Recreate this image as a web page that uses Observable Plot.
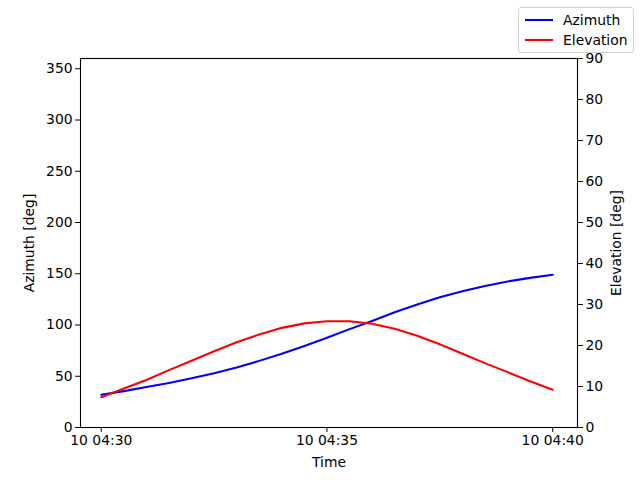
<!DOCTYPE html>
<html>
<head>
<meta charset="utf-8">
<script src="https://cdn.jsdelivr.net/npm/d3@7"></script>
<script src="https://cdn.jsdelivr.net/npm/@observablehq/plot@0.6"></script>
<style>
  html, body { margin: 0; padding: 0; background: white; }
  #wrap { position: relative; width: 640px; height: 480px; font-family: "DejaVu Sans", sans-serif; }
  #legend { position: absolute; left: 518px; top: 7px; width: 114px; height: 44px; border: 1px solid #d0d0d0; border-radius: 3px; background: rgba(255,255,255,0.8); font-size: 13.9px; }
  .item { position: absolute; left: 6px; height: 20px; display: flex; align-items: center; }
  .item svg { margin-right: 10px; }
</style>
</head>
<body>
<div id="wrap">
  <div id="chart"></div>
  <div id="legend"></div>
</div>
<script>
// Times (minutes after 04:30 on day 10), sampled every 30 s
const minutes = [0, 0.5, 1, 1.5, 2, 2.5, 3, 3.5, 4, 4.5, 5, 5.5, 6, 6.5, 7, 7.5, 8, 8.5, 9, 9.5, 10];
const azimuth = [32, 35.5, 39.5, 43.5, 48, 53, 58.5, 65, 72, 79.5, 87.5, 96, 104, 112.5, 120, 127, 133, 138, 142.5, 146, 149];
const elevation = [7.4, 9.5, 11.6, 14.0, 16.3, 18.6, 20.8, 22.7, 24.3, 25.4, 25.9, 25.9, 25.3, 24.1, 22.4, 20.3, 18.0, 15.7, 13.5, 11.3, 9.2];
const seriesNames = ["Azimuth", "Elevation"];
const seriesColors = ["blue", "red"];
const azTicks = [0, 50, 100, 150, 200, 250, 300, 350];
const elTicks = [0, 10, 20, 30, 40, 50, 60, 70, 80, 90];
const xTickMinutes = [0, 5, 10];
const xDomainMinutes = [-0.46, 10.55];

const base = Date.UTC(2024, 0, 10, 4, 30, 0);
const toDate = m => new Date(base + m * 60000);
const data = minutes.map((m, i) => ({time: toDate(m), az: azimuth[i], el: elevation[i]}));
const ratio = 360 / 90;

const chart = Plot.plot({
  width: 640,
  height: 480,
  marginLeft: 80,
  marginRight: 63,
  marginTop: 58,
  marginBottom: 53,
  style: {fontFamily: "DejaVu Sans", fontSize: "13.9px", background: "white", color: "black", overflow: "visible"},
  x: {type: "utc", domain: xDomainMinutes.map(toDate)},
  y: {domain: [0, 360]},
  marks: [
    Plot.line(data, {x: "time", y: "az", stroke: seriesColors[0], strokeWidth: 2.08}),
    Plot.line(data, {x: "time", y: d => d.el * ratio, stroke: seriesColors[1], strokeWidth: 2.08}),
    Plot.frame({stroke: "black", strokeWidth: 1.1}),
    Plot.axisX({ticks: xTickMinutes.map(toDate), tickFormat: d3.utcFormat("%d %H:%M"), tickSize: 4.9, tickPadding: 3, label: "Time", labelAnchor: "center", labelArrow: "none", labelOffset: 39}),
    Plot.axisY({ticks: azTicks, tickSize: 4.9, tickPadding: 3, label: "Azimuth [deg]", labelAnchor: "center", labelArrow: "none", labelOffset: 56}),
    Plot.axisY({anchor: "right", ticks: elTicks.map(v => v * ratio), tickFormat: d => d / ratio, tickSize: 4.9, tickPadding: 3, label: "Elevation [deg]", labelAnchor: "center", labelArrow: "none", labelOffset: 43})
  ]
});
document.getElementById("chart").appendChild(chart);

const legend = document.getElementById("legend");
seriesNames.forEach((name, i) => {
  const item = document.createElement("div");
  item.className = "item";
  item.style.top = (2 + i * 20) + "px";
  item.innerHTML = `<svg width="28" height="4"><line x1="0" x2="28" y1="2" y2="2" stroke="${seriesColors[i]}" stroke-width="2.08"/></svg><span>${name}</span>`;
  legend.appendChild(item);
});
</script>
</body>
</html>
